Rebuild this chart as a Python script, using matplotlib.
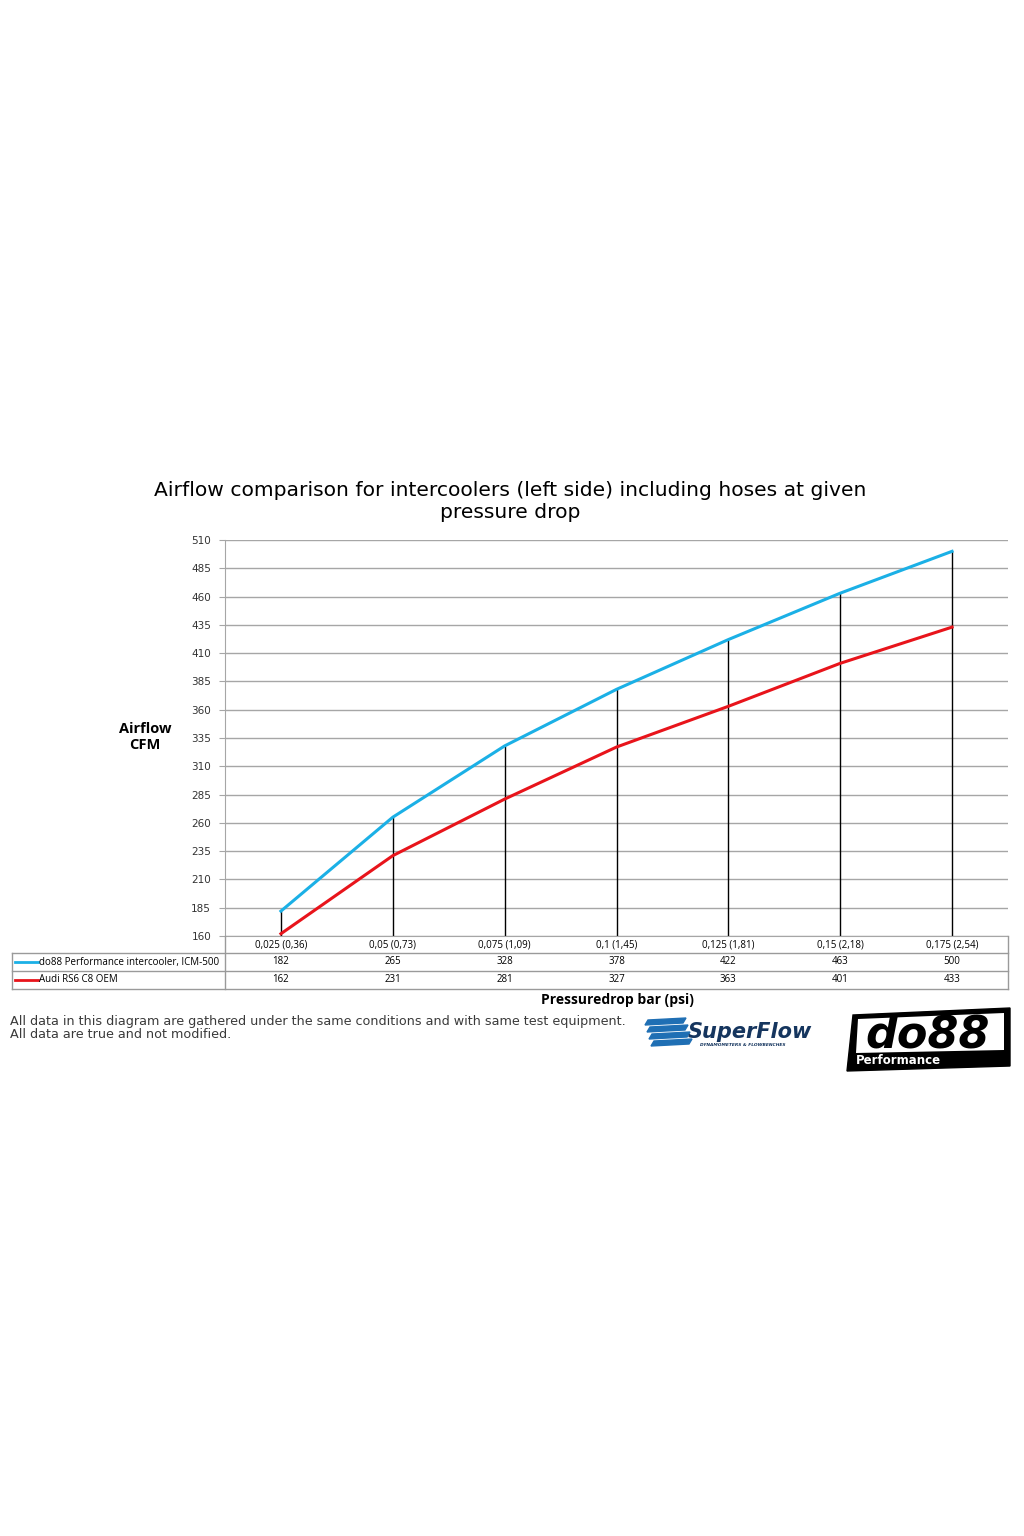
import numpy as np
import matplotlib.pyplot as plt
import matplotlib.transforms as mtransforms
from matplotlib.patches import Polygon

categories = ['0,025 (0,36)', '0,05 (0,73)', '0,075 (1,09)', '0,1 (1,45)',
              '0,125 (1,81)', '0,15 (2,18)', '0,175 (2,54)']
do88 = [182, 265, 328, 378, 422, 463, 500]
oem = [162, 231, 281, 327, 363, 401, 433]
series_names = ['do88 Performance intercooler, ICM-500', 'Audi RS6 C8 OEM']
yticks = list(range(160, 511, 25))

blue = '#1bb0e6'
red = '#e8141b'
grid = '#a6a6a6'
W, H = 1024, 1536

fig = plt.figure(figsize=(W / 100, H / 100), dpi=100)
ax = fig.add_axes([225 / W, 1 - 936 / H, (1008 - 225) / W, (936 - 540) / H])

x = np.arange(len(categories))
# drop lines from highest point down to the axis floor
ax.vlines(x, 160, np.maximum(do88, oem), color='black', lw=1, zorder=2)
ax.plot(x, do88, color=blue, lw=2.2, zorder=3)
ax.plot(x, oem, color=red, lw=2.2, zorder=3)

ax.set_xlim(-0.5, len(categories) - 0.5)
ax.set_ylim(160, 510)
ax.set_yticks(yticks)
ax.yaxis.grid(True, color=grid, lw=1)
ax.set_axisbelow(True)
ax.tick_params(axis='y', length=4, color=grid, labelsize=7.5, labelcolor='#333333', pad=6)
ax.set_xticks([])
for s in ['top', 'right']:
    ax.spines[s].set_visible(False)
ax.spines['left'].set_color(grid)
ax.spines['bottom'].set_color(grid)

fig.text(510 / W, 1 - 502 / H,
         'Airflow comparison for intercoolers (left side) including hoses at given\npressure drop',
         ha='center', va='center', fontsize=14.6, linespacing=1.2, family='DejaVu Sans')
fig.text(145 / W, 1 - 737 / H, 'Airflow\nCFM', ha='center', va='center',
         fontsize=10.5, fontweight='bold', family='Open Sans', linespacing=1.2)

# data table under the axis
tr = mtransforms.blended_transform_factory(ax.transData, fig.transFigure)
fy = lambda p: 1 - p / H
fx = lambda p: p / W
lc = '#9a9a9a'
for yy in [953, 971, 989]:
    fig.add_artist(plt.Line2D([fx(12), fx(1008)], [fy(yy), fy(yy)], color=lc, lw=1))
fig.add_artist(plt.Line2D([fx(12), fx(12)], [fy(953), fy(989)], color=lc, lw=1))
fig.add_artist(plt.Line2D([fx(225), fx(225)], [fy(936), fy(989)], color=lc, lw=1))
fig.add_artist(plt.Line2D([fx(1008), fx(1008)], [fy(936), fy(989)], color=lc, lw=1))

for i, c in enumerate(categories):
    fig.text(x[i], fy(945), c, transform=tr, ha='center', va='center', fontsize=7, family='Open Sans')
    fig.text(x[i], fy(962), str(do88[i]), transform=tr, ha='center', va='center', fontsize=7, family='Open Sans')
    fig.text(x[i], fy(980), str(oem[i]), transform=tr, ha='center', va='center', fontsize=7, family='Open Sans')

for yy, name, col in [(962, series_names[0], blue), (980, series_names[1], red)]:
    fig.add_artist(plt.Line2D([fx(15), fx(38)], [fy(yy), fy(yy)], color=col, lw=2))
    fig.text(fx(39), fy(yy), name, ha='left', va='center', fontsize=7, family='Open Sans')

fig.text(fx(617), fy(1000), 'Pressuredrop bar (psi)', ha='center', va='center',
         fontsize=10, fontweight='bold', family='Open Sans')

fig.text(fx(10), fy(1028),
         'All data in this diagram are gathered under the same conditions and with same test equipment.\nAll data are true and not modified.',
         ha='left', va='center', fontsize=9.2, color='#3a3a3a', family='DejaVu Sans', linespacing=1.05)

# SuperFlow logo (approximation)
for k in range(4):
    fig.add_artist(Polygon([(fx(648 + k * 2), fy(1020 + k * 7)), (fx(686 + k * 2), fy(1018 + k * 7)),
                            (fx(683 + k * 2), fy(1023 + k * 7)), (fx(645 + k * 2), fy(1025 + k * 7))],
                           closed=True, transform=fig.transFigure, color='#1f6fb4'))
fig.text(fx(688), fy(1032), 'SuperFlow', ha='left', va='center', fontsize=15, fontweight='bold',
         style='italic', color='#15355e', family='DejaVu Sans')
fig.text(fx(700), fy(1045), 'DYNAMOMETERS & FLOWBENCHES', ha='left', va='center', fontsize=3.2,
         fontweight='bold', style='italic', color='#15355e', family='DejaVu Sans')

# do88 logo (approximation)
fig.add_artist(Polygon([(fx(853), fy(1015)), (fx(1010), fy(1008)), (fx(1010), fy(1066)),
                        (fx(847), fy(1071))], closed=True, transform=fig.transFigure,
                       facecolor='black', edgecolor='black'))
fig.add_artist(Polygon([(fx(858), fy(1019)), (fx(1004), fy(1013)), (fx(1004), fy(1050)),
                        (fx(856), fy(1053))], closed=True, transform=fig.transFigure,
                       facecolor='white', edgecolor='none'))
fig.text(fx(928), fy(1035), 'do88', ha='center', va='center', fontsize=32, fontweight='bold',
         style='italic', color='black', family='DejaVu Sans')
fig.text(fx(856), fy(1061), 'Performance', ha='left', va='center', fontsize=8.5, fontweight='bold',
         color='white', family='DejaVu Sans')

fig.savefig('out.png', dpi=100, facecolor='white')
